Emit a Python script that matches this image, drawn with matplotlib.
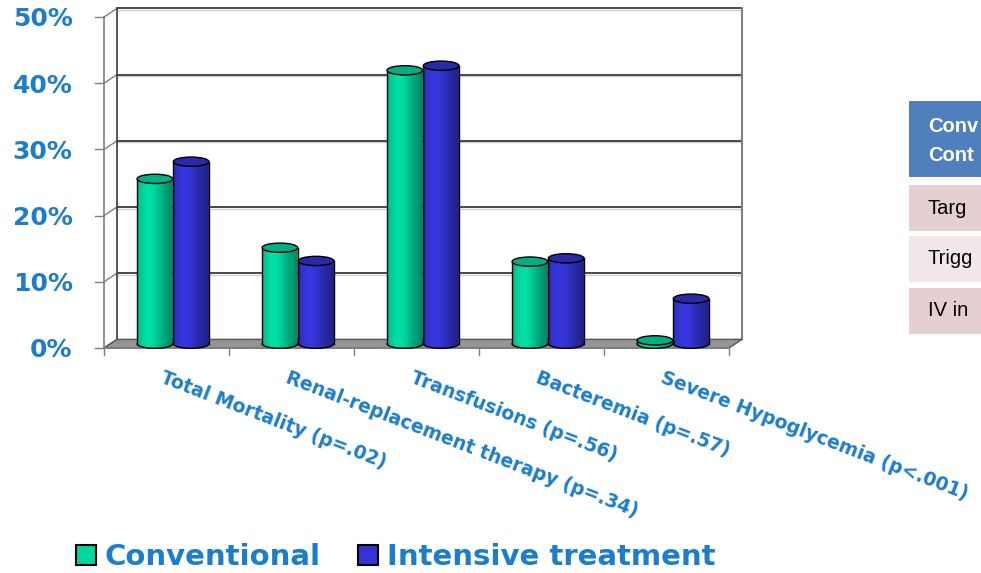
import numpy as np
import matplotlib
matplotlib.use("Agg")
import matplotlib.pyplot as plt
from matplotlib.patches import Polygon, Ellipse, PathPatch, Patch, Rectangle
from matplotlib.path import Path

# ---------------- data ----------------
categories = ["Total Mortality (p=.02)",
              "Renal-replacement therapy (p=.34)",
              "Transfusions (p=.56)",
              "Bacteremia (p=.57)",
              "Severe Hypoglycemia (p<.001)"]
conventional = [24.9, 14.5, 41.3, 12.4, 0.5]
intensive = [27.5, 12.5, 42.0, 12.9, 6.8]
series_names = ["Conventional", "Intensive treatment"]
y_ticks = [0, 10, 20, 30, 40, 50]
y_tick_labels = ["0%", "10%", "20%", "30%", "40%", "50%"]
# table at the right edge (only its left part is visible in the picture)
table_header = ["Conv", "Cont"]
table_rows = ["Targ", "Trigg", "IV in"]

# ---------------- style ----------------
LABEL_BLUE = "#1C7DCC"
GREEN = np.array([0, 214, 158]) / 255
GREEN_TOP = "#00B083"
BLUE = np.array([52, 52, 214]) / 255
BLUE_TOP = "#2A2AA6"

W, H, DPI = 981, 573, 100
fig = plt.figure(figsize=(W / DPI, H / DPI), dpi=DPI)
fig.patch.set_facecolor("white")

# axes geometry in pixels
px_left, px_right = 104, 742
px_bottom, px_top = 351.3, 7.1
ax = fig.add_axes([px_left / W, 1 - px_bottom / H,
                   (px_right - px_left) / W, (px_bottom - px_top) / H])
d = 0.104   # depth offset (x units)
e = 1.3     # depth offset (y units)
xmin, xmax = -0.5, len(categories) - 0.5
ymax = 50
ax.set_xlim(xmin, xmax + d)
ax.set_ylim(-0.5, 51.5)
ax.axis("off")

frame_col = "#7f7f7f"
grid_col = "#3a3a3a"

# floor
floor = Polygon([(xmin, 0), (xmax, 0), (xmax + d, e), (xmin + d, e)],
                closed=True, facecolor="#959595", edgecolor="#555555",
                lw=1.0, zorder=1, clip_on=False)
ax.add_patch(floor)

# back wall gridlines and left wall connectors
for v, lab in zip(y_ticks, y_tick_labels):
    if v > 0:
        ax.plot([xmin + d, xmax + d], [v + e, v + e], color=grid_col,
                lw=1.3, zorder=0.5, clip_on=False, solid_capstyle="butt")
        ax.plot([xmin + d, xmax + d], [v + e - 0.25, v + e - 0.25],
                color="#d0d0d0", lw=1.0, zorder=0.4, clip_on=False)
    ax.plot([xmin, xmin + d], [v, v + e], color=frame_col, lw=1.0,
            zorder=0.5, clip_on=False)
    # tick marks
    ax.plot([xmin - 0.072, xmin], [v, v], color=frame_col, lw=1.0,
            clip_on=False)
    ax.text(xmin - 0.25, v - 0.35, lab,
            ha="right", va="center", fontsize=18, fontweight="bold",
            color=LABEL_BLUE, family="DejaVu Sans")

# back wall verticals
ax.plot([xmin + d, xmin + d], [e, ymax + e], color=grid_col, lw=1.2,
        zorder=0.5, clip_on=False)
ax.plot([xmax + d, xmax + d], [e, ymax + e], color=frame_col, lw=1.5,
        zorder=0.5, clip_on=False)
# front left axis
ax.plot([xmin, xmin], [0, ymax], color=frame_col, lw=1.2, zorder=3,
        clip_on=False)
# front bottom axis and category ticks
ax.plot([xmin, xmax], [0, 0], color=frame_col, lw=1.2, zorder=3,
        clip_on=False)
for k in range(len(categories) + 1):
    ax.plot([xmin + k, xmin + k], [0, -1.0], color=frame_col, lw=1.0,
            clip_on=False)


def cylinder(xc, width, top, base, body_rgb, top_col):
    x0, x1 = xc - width / 2, xc + width / 2
    eh = 1.4  # ellipse full height in % units
    t = np.linspace(np.pi, 2 * np.pi, 40)
    ex = xc + width / 2 * np.cos(t)
    ey = base + eh / 2 * np.sin(t)
    verts = [(x0, top)] + list(zip(ex, ey)) + [(x1, top), (x0, top)]
    path = Path(verts, closed=True)
    body = PathPatch(path, facecolor="none", edgecolor="none", zorder=4)
    ax.add_patch(body)
    # horizontal shading
    s = np.linspace(0, 1, 64)
    f = 0.80 + 0.25 * np.exp(-((s - 0.35) / 0.33) ** 2) - 0.18 * s ** 3
    grad = np.clip(body_rgb[None, :] * f[:, None], 0, 1)[None, :, :]
    im = ax.imshow(grad, extent=[x0, x1, base - eh, top], aspect="auto",
                   origin="lower", zorder=4, interpolation="bilinear")
    im.set_clip_path(body)
    # outline
    ax.plot([x0, x0], [base, top], color="black", lw=1.0, zorder=5)
    ax.plot([x1, x1], [base, top], color="black", lw=1.0, zorder=5)
    ax.plot(ex, ey, color="black", lw=1.0, zorder=5)
    ax.add_patch(Ellipse((xc, top), width, eh, facecolor=top_col,
                         edgecolor="black", lw=1.0, zorder=6))


bw = 0.285
off = 0.145
for i in range(len(categories)):
    xc = i + d / 2
    base = e / 2
    cylinder(xc - off, bw, conventional[i] + base, base, GREEN, GREEN_TOP)
    cylinder(xc + off, bw, intensive[i] + base, base, BLUE, BLUE_TOP)
    ax.text(i - 0.01, -3.0, categories[i], rotation=-21,
            rotation_mode="anchor", ha="left", va="top", fontsize=13.5,
            fontweight="bold", color=LABEL_BLUE, family="DejaVu Sans")

ax.set_xlim(xmin, xmax + d)
ax.set_ylim(-0.5, 51.5)

# legend
handles = [Patch(facecolor=GREEN, edgecolor="black", lw=1.5),
           Patch(facecolor=BLUE, edgecolor="black", lw=1.5)]
leg = fig.legend(handles, series_names, loc="lower left",
                 bbox_to_anchor=(70 / W, -4 / H), ncol=2, frameon=False,
                 prop={"family": "DejaVu Sans", "weight": "bold", "size": 21},
                 labelcolor=LABEL_BLUE, handlelength=0.68, handleheight=0.72,
                 handletextpad=0.3, columnspacing=1.3, borderpad=0.2,
                 borderaxespad=0)

# partial table at right edge
def fig_rect(x0, y0, x1, y1, color):
    fig.patches.append(Rectangle((x0 / W, 1 - y1 / H), (x1 - x0) / W,
                                 (y1 - y0) / H, transform=fig.transFigure,
                                 facecolor=color, edgecolor="none"))

fig_rect(909, 101, 990, 177, "#4F7FBC")
row_cols = ["#E6CFD0", "#F2E7E8", "#E6CFD0"]
row_y = [(185, 231), (236, 282), (288, 334)]
for (y0, y1), c in zip(row_y, row_cols):
    fig_rect(909, y0, 990, y1, c)
fig.text(928 / W, 1 - 127 / H, table_header[0], color="white",
         fontsize=14.5, fontweight="bold", family="Liberation Sans",
         va="center", ha="left")
fig.text(928 / W, 1 - 155 / H, table_header[1], color="white",
         fontsize=14.5, fontweight="bold", family="Liberation Sans",
         va="center", ha="left")
for (y0, y1), label in zip(row_y, table_rows):
    fig.text(928 / W, 1 - (y0 + y1) / 2 / H, label, color="black",
             fontsize=14.5, family="Liberation Sans", va="center", ha="left")

fig.savefig("out.png", dpi=DPI, facecolor="white")
